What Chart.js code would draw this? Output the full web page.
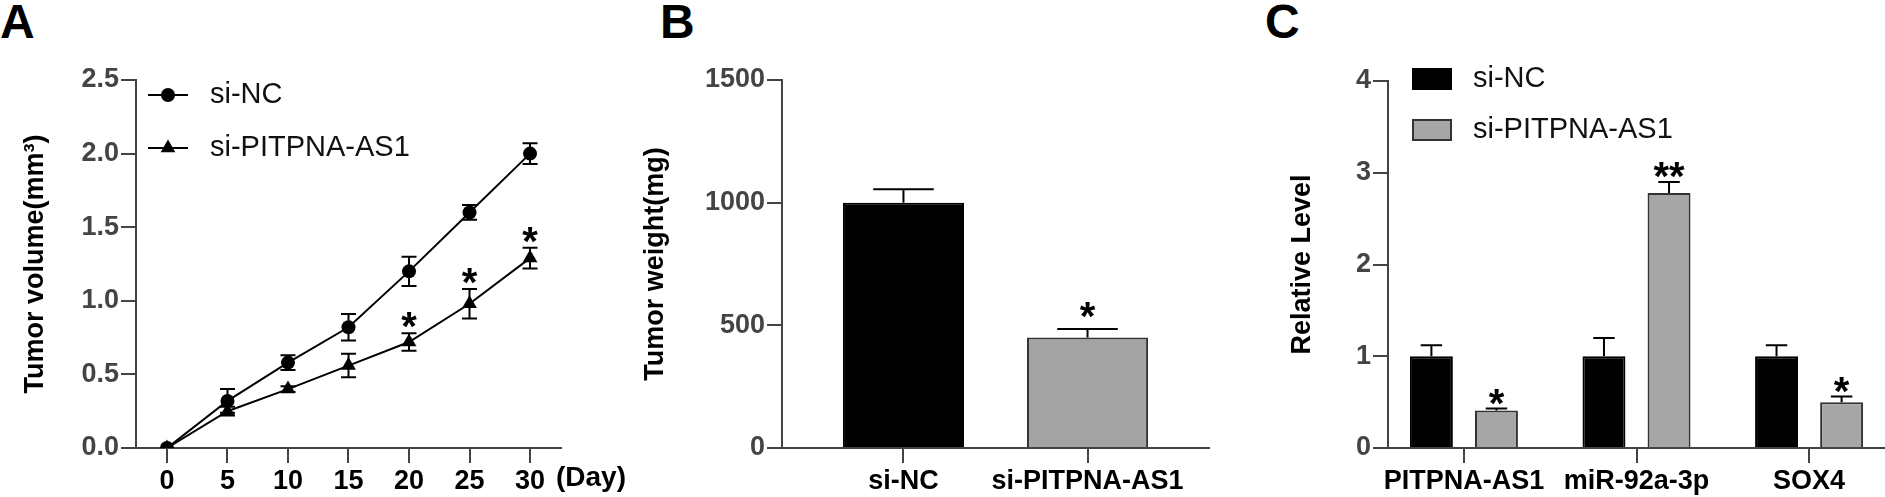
<!DOCTYPE html>
<html>
<head>
<meta charset="utf-8">
<script src="https://cdn.jsdelivr.net/npm/chart.js@4/dist/chart.umd.min.js"></script>
<style>
  html, body { margin: 0; padding: 0; background: #fff; }
  body { width: 1885px; height: 497px; position: relative; overflow: hidden; font-family: "Liberation Sans", Arial, sans-serif; }
  canvas { position: absolute; top: 0; }
  .tag { position: absolute; top: -2px; font-weight: bold; font-size: 48px; line-height: 48px; color: #000; }
</style>
</head>
<body>
<div class="tag" style="left:0px">A</div>
<div class="tag" style="left:660px">B</div>
<div class="tag" style="left:1265px">C</div>
<canvas id="chartA" width="640" height="497" style="left:0px"></canvas>
<canvas id="chartB" width="620" height="497" style="left:630px"></canvas>
<canvas id="chartC" width="630" height="497" style="left:1255px"></canvas>
<script>
// A - tumor volume over time
const days = [0, 5, 10, 15, 20, 25, 30];
const volNC = [0, 0.32, 0.58, 0.82, 1.20, 1.60, 2.00];
const volNCErr = [0, 0.08, 0.05, 0.09, 0.10, 0.05, 0.07];
const volSi = [0, 0.25, 0.40, 0.56, 0.72, 0.98, 1.29];
const volSiErr = [0, 0.03, 0.02, 0.08, 0.06, 0.10, 0.07];
const volSiStars = ['', '', '', '', '*', '*', '*'];
const volTicks = [0, 0.5, 1.0, 1.5, 2.0, 2.5];

// B - tumor weight
const groups = ['si-NC', 'si-PITPNA-AS1'];
const weight = [1000, 450];
const weightErr = [55, 35];
const weightStars = ['', '*'];
const weightTicks = [0, 500, 1000, 1500];

// C - relative level
const genes = ['PITPNA-AS1', 'miR-92a-3p', 'SOX4'];
const levelNC = [1, 1, 1];
const levelNCErr = [0.12, 0.2, 0.12];
const levelSi = [0.41, 2.78, 0.5];
const levelSiErr = [0.02, 0.12, 0.06];
const levelSiStars = ['*', '**', '*'];
const levelTicks = [0, 1, 2, 3, 4];

const FONT = '"Liberation Sans", Arial, sans-serif';
const AXIS = '#444';

const errorBars = {
    id: 'errorBars',
    afterDatasetsDraw(chart, args, opts) {
        const ctx = chart.ctx;
        const y = chart.scales.y;
        ctx.save();
        ctx.strokeStyle = '#000';
        ctx.lineWidth = 2;
        chart.data.datasets.forEach((ds, di) => {
            if (!ds.err) return;
            const meta = chart.getDatasetMeta(di);
            meta.data.forEach((el, i) => {
                const e = ds.err[i];
                if (!e) return;
                const v = meta.controller.getParsed(i).y;
                const top = y.getPixelForValue(v + e);
                const bottom = opts.both ? y.getPixelForValue(v - e) : el.y;
                const half = opts.cap || el.width / 4;
                ctx.beginPath();
                ctx.moveTo(el.x, top); ctx.lineTo(el.x, bottom);
                ctx.moveTo(el.x - half, top); ctx.lineTo(el.x + half, top);
                if (opts.both) { ctx.moveTo(el.x - half, bottom); ctx.lineTo(el.x + half, bottom); }
                ctx.stroke();
            });
        });
        ctx.restore();
    }
};

const stars = {
    id: 'stars',
    afterDatasetsDraw(chart, args, opts) {
        const ctx = chart.ctx;
        const y = chart.scales.y;
        ctx.save();
        ctx.font = 'bold 40px ' + FONT;
        ctx.fillStyle = '#000';
        ctx.textAlign = 'center';
        ctx.textBaseline = 'alphabetic';
        chart.data.datasets.forEach((ds, di) => {
            if (!ds.stars) return;
            const meta = chart.getDatasetMeta(di);
            meta.data.forEach((el, i) => {
                if (!ds.stars[i]) return;
                const v = meta.controller.getParsed(i).y + (ds.err ? ds.err[i] : 0);
                // asterisk sits ~0.58em above baseline
                ctx.fillText(ds.stars[i], el.x, y.getPixelForValue(v) - opts.gap + 23);
            });
        });
        ctx.restore();
    }
};

const keyLegend = {
    id: 'keyLegend',
    afterDraw(chart, args, o) {
        if (!o.kind) return;
        const ctx = chart.ctx;
        ctx.save();
        ctx.font = '29px ' + FONT;
        ctx.textBaseline = 'middle';
        chart.data.datasets.forEach((ds, i) => {
            const y = o.top + i * o.step;
            ctx.fillStyle = '#000';
            ctx.strokeStyle = '#000';
            if (o.kind === 'line') {
                ctx.lineWidth = 2;
                ctx.beginPath();
                ctx.moveTo(o.left, y); ctx.lineTo(o.left + o.size, y);
                ctx.stroke();
                const cx = o.left + o.size / 2, r = ds.pointRadius;
                ctx.beginPath();
                if (ds.pointStyle === 'triangle') {
                    let a = 0;
                    ctx.moveTo(cx + Math.sin(a) * r, y - Math.cos(a) * r);
                    a += 2 * Math.PI / 3;
                    ctx.lineTo(cx + Math.sin(a) * r, y - Math.cos(a) * r);
                    a += 2 * Math.PI / 3;
                    ctx.lineTo(cx + Math.sin(a) * r, y - Math.cos(a) * r);
                    ctx.closePath();
                } else {
                    ctx.arc(cx, y, r, 0, Math.PI * 2);
                }
                ctx.fill();
            } else {
                ctx.fillStyle = ds.backgroundColor;
                ctx.fillRect(o.left, y - o.box / 2, o.size, o.box);
                ctx.lineWidth = 2;
                ctx.strokeStyle = ds.borderColor;
                ctx.strokeRect(o.left + 1, y - o.box / 2 + 1, o.size - 2, o.box - 2);
            }
            ctx.fillStyle = '#111';
            ctx.fillText(ds.label, o.textX, y);
        });
        ctx.restore();
    }
};

const dayUnit = {
    id: 'dayUnit',
    afterDraw(chart) {
        const ctx = chart.ctx;
        ctx.save();
        ctx.font = 'bold 28px ' + FONT;
        ctx.fillStyle = '#000';
        ctx.textBaseline = 'alphabetic';
        ctx.fillText('(Day)', chart.chartArea.right - 5, chart.chartArea.bottom + 38);
        ctx.restore();
    }
};

function xAxis(ticks, labels, min, max) {
    return {
        type: 'linear', min: min, max: max, offset: false,
        afterBuildTicks: s => { s.ticks = ticks.map(v => ({ value: v })); },
        afterFit: s => { s.height = 49; },
        grid: { offset: false, drawOnChartArea: false, tickLength: 15, color: AXIS, lineWidth: 2 },
        border: { color: AXIS, width: 2 },
        ticks: {
            color: '#000', padding: 2, maxRotation: 0, autoSkip: false,
            font: { family: FONT, size: 27, weight: 'bold' },
            callback: v => labels ? labels[v] : v
        }
    };
}

function yAxis(ticks, max, width, title, titlePad, fmt) {
    return {
        min: 0, max: max,
        afterBuildTicks: s => { s.ticks = ticks.map(v => ({ value: v })); },
        afterFit: s => { s.width = width; },
        grid: { drawOnChartArea: false, tickLength: 15, color: AXIS, lineWidth: 2 },
        border: { color: AXIS, width: 2 },
        ticks: {
            color: AXIS, padding: 2,
            font: { family: FONT, size: 27, weight: 'bold' },
            callback: fmt
        },
        title: {
            display: true, text: title, color: '#000',
            padding: { top: titlePad, bottom: 0 },
            font: { family: FONT, size: 27, weight: 'bold' }
        }
    };
}

const base = {
    responsive: false,
    animation: false,
    events: []
};

new Chart(document.getElementById('chartA'), {
    type: 'line',
    data: {
        datasets: [{
            label: 'si-NC',
            data: days.map((d, i) => ({ x: d, y: volNC[i] })),
            err: volNCErr,
            borderColor: '#000', backgroundColor: '#000', borderWidth: 2,
            pointStyle: 'circle', pointRadius: 7, pointBorderWidth: 0
        }, {
            label: 'si-PITPNA-AS1',
            data: days.map((d, i) => ({ x: d, y: volSi[i] })),
            err: volSiErr,
            stars: volSiStars,
            borderColor: '#000', backgroundColor: '#000', borderWidth: 2,
            pointStyle: 'triangle', pointRadius: 8.5, pointBorderWidth: 0
        }]
    },
    options: Object.assign({}, base, {
        layout: { padding: { left: 0, top: 80, right: 79, bottom: 0 } },
        plugins: {
            legend: { display: false }, tooltip: { enabled: false },
            errorBars: { both: true, cap: 7.5 },
            stars: { gap: 16 },
            keyLegend: { kind: 'line', left: 148, size: 40, top: 95, step: 53, textX: 210 }
        },
        scales: {
            x: xAxis(days, null, -2.56, 32.56),
            y: yAxis(volTicks, 2.5, 136, 'Tumor volume(mm³)', 19, v => v.toFixed(1))
        }
    }),
    plugins: [errorBars, stars, keyLegend, dayUnit]
});

new Chart(document.getElementById('chartB'), {
    type: 'bar',
    data: {
        datasets: [{
            label: 'weight',
            data: groups.map((g, i) => ({ x: i, y: weight[i] })),
            err: weightErr,
            stars: weightStars,
            backgroundColor: ['#000', '#a3a3a3'],
            borderColor: ['#000', '#333'],
            borderWidth: 2,
            categoryPercentage: 1,
            barPercentage: 0.658
        }]
    },
    options: Object.assign({}, base, {
        layout: { padding: { left: 0, top: 80, right: 41, bottom: 0 } },
        plugins: {
            legend: { display: false }, tooltip: { enabled: false },
            errorBars: { both: false },
            stars: { gap: 22 }
        },
        scales: {
            x: xAxis([0, 1], groups, -0.66, 1.66),
            y: yAxis(weightTicks, 1500, 152, 'Tumor weight(mg)', 9, v => v)
        }
    }),
    plugins: [errorBars, stars]
});

new Chart(document.getElementById('chartC'), {
    type: 'bar',
    data: {
        datasets: [{
            label: 'si-NC',
            data: genes.map((g, i) => ({ x: i, y: levelNC[i] })),
            err: levelNCErr,
            backgroundColor: '#000', borderColor: '#000', borderWidth: 2
        }, {
            label: 'si-PITPNA-AS1',
            data: genes.map((g, i) => ({ x: i, y: levelSi[i] })),
            err: levelSiErr,
            stars: levelSiStars,
            backgroundColor: '#a6a6a6', borderColor: '#333', borderWidth: 2
        }]
    },
    options: Object.assign({}, base, {
        layout: { padding: { left: 0, top: 81, right: 0, bottom: 0 } },
        datasets: { bar: { categoryPercentage: 0.754, barPercentage: 0.66 } },
        plugins: {
            legend: { display: false }, tooltip: { enabled: false },
            errorBars: { both: false },
            stars: { gap: 15 },
            keyLegend: { kind: 'box', left: 157, size: 40, box: 22, top: 79, step: 51, textX: 218 }
        },
        scales: {
            x: xAxis([0, 1, 2], genes, -0.44, 2.44),
            y: yAxis(levelTicks, 4, 133, 'Relative Level', 31, v => v)
        }
    }),
    plugins: [errorBars, stars, keyLegend]
});
</script>
</body>
</html>
